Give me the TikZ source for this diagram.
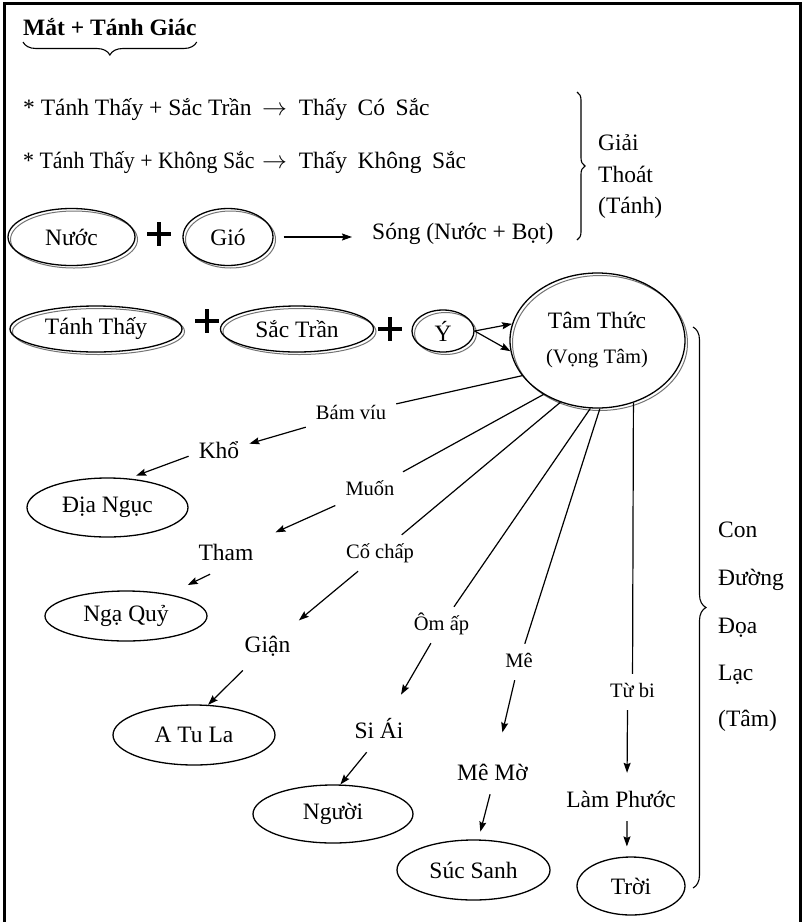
\documentclass[tikz,border=0pt]{standalone}
\usepackage{fontspec}
\setmainfont{Liberation Serif}
\usetikzlibrary{arrows.meta,decorations.pathreplacing,shapes.geometric}

\newcommand\mainsize{\fontsize{23.5}{28}\selectfont}
\newcommand\smallsize{\fontsize{20.5}{24}\selectfont}
\newcommand\wgap{\hspace{0.45em}}

\tikzset{
  big/.style={font=\mainsize, inner sep=0pt},
  wordm/.style={font=\mainsize, anchor=base, text height=16pt, text depth=5pt, inner xsep=10pt, inner ysep=9pt},
  words/.style={font=\smallsize, anchor=base, text height=14pt, text depth=4pt, inner xsep=10pt, inner ysep=9pt},
  oval/.style={ellipse, draw, line width=1.3pt, inner sep=0pt, font=\mainsize},
  shade ring/.style={draw=black!55, line width=1pt},
  link/.style={line width=1.2pt},
  arr/.style={line width=1.2pt, -{Stealth[length=10pt,width=7pt,inset=1.5pt]}},
  brc/.style={line width=1.1pt, decorate, decoration={brace, amplitude=#1}},
  plus/.style={line width=3.4pt},
}

% double-ring oval: name, x, y, width, height, text
\newcommand\ringnode[6]{%
  \draw[shade ring] (#2+2.5,#3+2.5) ellipse [x radius=#4/2, y radius=#5/2];
  \node[oval, minimum width=#4pt, minimum height=#5pt] (#1) at (#2,#3) {#6};
}

\begin{document}
\begin{tikzpicture}[x=1pt,y=-1pt]
\useasboundingbox (0,0) rectangle (802,922);

% frame
\draw[line width=3pt] (4.7,922) -- (4.7,3.3) -- (800.5,3.3) -- (800.5,922);

% title with underbrace
\node[font=\bfseries\mainsize, anchor=base west, inner sep=0pt] (title) at (23,35) {Mắt + Tánh Giác};
\draw[brc=13] ([yshift=-7pt]title.base east) -- ([yshift=-7pt]title.base west);

% statements
\node[big, anchor=base west] (s1) at (23,115) {* Tánh Thấy + Sắc Trần};
\node[big, anchor=base west] (r1) at (262,115) {$\rightarrow$\hspace{0.5em}Thấy\wgap Có\wgap Sắc};
\node[big, anchor=base west] (s2) at (23,168) {\scalebox{0.93}[1]{* Tánh Thấy + Không Sắc}};
\node[big, anchor=base west] (r2) at (262,168) {$\rightarrow$\hspace{0.5em}Thấy\wgap Không\wgap Sắc};

% water + wind
\ringnode{nuoc}{71.5}{237}{127}{57}{Nước}
\draw[plus] (147,234) -- (171,234) (159,222) -- (159,246);
\ringnode{gio}{228}{237}{90}{57}{Gió}
\node[big, anchor=base west] (song) at (372,239) {Sóng (Nước + Bọt)};
\draw[arr, shorten <=10pt, shorten >=20pt] (gio.east) -- (gio.east -| song.west);

% liberation brace
\draw[brc=8] (577,92) -- (577,240);
\node[big, anchor=base west] (gt1) at (598,150) {Giải};
\node[big, anchor=base west] (gt2) at (598,182) {Thoát};
\node[big, anchor=base west] (gt3) at (598,213) {(Tánh)};

% senses row
\ringnode{tanh}{96}{329}{172}{46}{Tánh Thấy}
\draw[plus] (195,321) -- (219,321) (207,309) -- (207,333);
\ringnode{sac}{297}{329}{153}{46}{Sắc Trần}
\draw[plus] (378,329) -- (402,329) (390,317) -- (390,341);
\ringnode{yy}{443}{331}{62}{42}{Ý}
\ringnode{tam}{597.5}{340.5}{175}{135}{}
\node[big, anchor=base] (tamA) at (597,328) {Tâm Thức};
\node[font=\smallsize, inner sep=0pt, anchor=base] (tamB) at (597,363) {(Vọng Tâm)};
\draw[arr] (yy.east) -- (tam.169);
\draw[arr] (yy.east) -- (tam.187);

% falling-path brace
\draw[brc=13] (693,327) -- (693,888);
\node[big, anchor=base west] (cd1) at (718,537) {Con};
\node[big, anchor=base west] (cd2) at (718,585) {Đường};
\node[big, anchor=base west] (cd3) at (718,633) {Đọa};
\node[big, anchor=base west] (cd4) at (718,680) {Lạc};
\node[big, anchor=base west] (cd5) at (718,726) {(Tâm)};

% intermediate words
\node[words] (bam) at (351,419) {Bám víu};
\node[wordm] (kho) at (219,458) {Khổ};
\node[words] (muon) at (370,495) {Muốn};
\node[wordm] (tham) at (226,560) {Tham};
\node[words] (cochap) at (380,558) {Cố chấp};
\node[wordm] (gian) at (267.5,652) {Giận};
\node[words] (omap) at (441.5,630) {Ôm ấp};
\node[wordm] (siai) at (379,738) {Si Ái};
\node[words] (me) at (519,667) {Mê};
\node[wordm] (memo) at (492.5,780) {Mê Mờ};
\node[words] (tubi) at (632.5,697) {Từ bi};
\node[wordm] (lamph) at (621,807) {Làm Phước};

% realms
\node[oval, minimum width=161pt, minimum height=59pt] (dia) at (107.5,507.5) {Địa Ngục};
\node[oval, minimum width=162pt, minimum height=50pt] (nga) at (126,616) {Ngạ Quỷ};
\node[oval, minimum width=162pt, minimum height=60pt] (atula) at (194,735) {A Tu La};
\node[oval, minimum width=160pt, minimum height=58pt] (nguoi) at (333,814) {Người};
\node[oval, minimum width=153pt, minimum height=60pt] (suc) at (473.5,870) {Súc Sanh};
\node[oval, minimum width=108pt, minimum height=58pt] (troi) at (631,886) {Trời};

% rays from the mind
\draw[link] (tam.205) -- (bam);
\draw[link] (tam.225) -- (muon);
\draw[link] (tam.239) -- (cochap);
\draw[link] (tam.264) -- (omap);
\draw[link] (tam.272) -- (me);
\draw[link] (tam.300) -- (tubi);

% chains down to the realms
\draw[arr] (bam) -- (kho);
\draw[arr, shorten >=8pt] (kho.187) -- (dia.54);
\draw[arr, shorten >=13pt] (muon) -- (tham);
\draw[arr, shorten >=21pt] (tham.231) -- (nga.27);
\draw[arr, shorten >=10pt] (cochap) -- (gian);
\draw[arr, shorten <=6pt] (gian.224) -- (atula.65);
\draw[arr, shorten >=21pt] (omap) -- (siai);
\draw[arr] (siai.238) -- (nguoi.76);
\draw[arr, shorten >=23pt] (me) -- (memo);
\draw[arr, shorten >=8pt] (memo.263) -- (suc.81);
\draw[arr, shorten >=9pt] ([xshift=-5pt]tubi.south) -- ([xshift=6pt]lamph.north);
\draw[arr, shorten >=10pt] (lamph.287) -- (troi.98);
\end{tikzpicture}
\end{document}
